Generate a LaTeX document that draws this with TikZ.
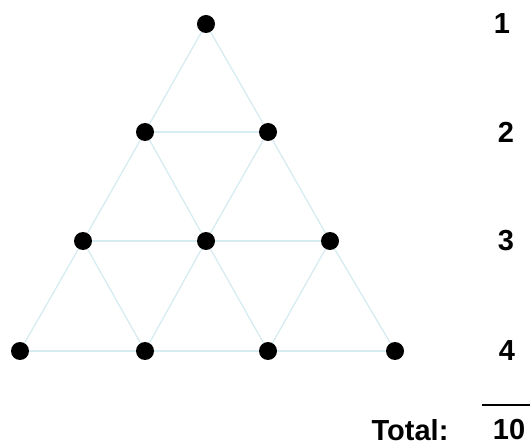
\documentclass[tikz,border=0pt]{standalone}
\usepackage{fontspec}
\setmainfont{Liberation Sans}
\definecolor{edgecol}{RGB}{214,236,240}
\begin{document}
\begin{tikzpicture}[x=1pt,y=-1pt,
  dot/.style={circle,fill=black,inner sep=0pt,minimum size=18pt},
  edge/.style={draw=edgecol,line width=1.3pt},
  lbl/.style={font=\fontsize{29}{31}\selectfont\bfseries,inner sep=0pt}]
\useasboundingbox (0,0) rectangle (530,446);
\node[dot] (a) at (206,24) {};
\node[dot] (b1) at (145,132) {};
\node[dot] (b2) at (268,132) {};
\node[dot] (c1) at (83,241) {};
\node[dot] (c2) at (206,241) {};
\node[dot] (c3) at (330,241) {};
\node[dot] (d1) at (20,351) {};
\node[dot] (d2) at (145,351) {};
\node[dot] (d3) at (268,351) {};
\node[dot] (d4) at (395,351) {};
\foreach \u/\v in {a/b1,a/b2,b1/b2,b1/c1,b1/c2,b2/c2,b2/c3,c1/c2,c2/c3,c1/d1,c1/d2,c2/d2,c2/d3,c3/d3,c3/d4,d1/d2,d2/d3,d3/d4}
  \draw[edge] (\u) -- (\v);
\node[lbl] (n1) at (502,24) {1};
\node[lbl] (n2) at (506,132) {2};
\node[lbl] (n3) at (506,241) {3};
\node[lbl] (n4) at (507,351) {4};
\node[lbl] (tot) at (410,430) {Total:};
\node[lbl] (ten) at (509,430) {10};
\coordinate (l1) at (482,405);
\coordinate (l2) at (530,405);
\draw[line width=2pt] (l1) -- (l2);
\end{tikzpicture}
\end{document}
